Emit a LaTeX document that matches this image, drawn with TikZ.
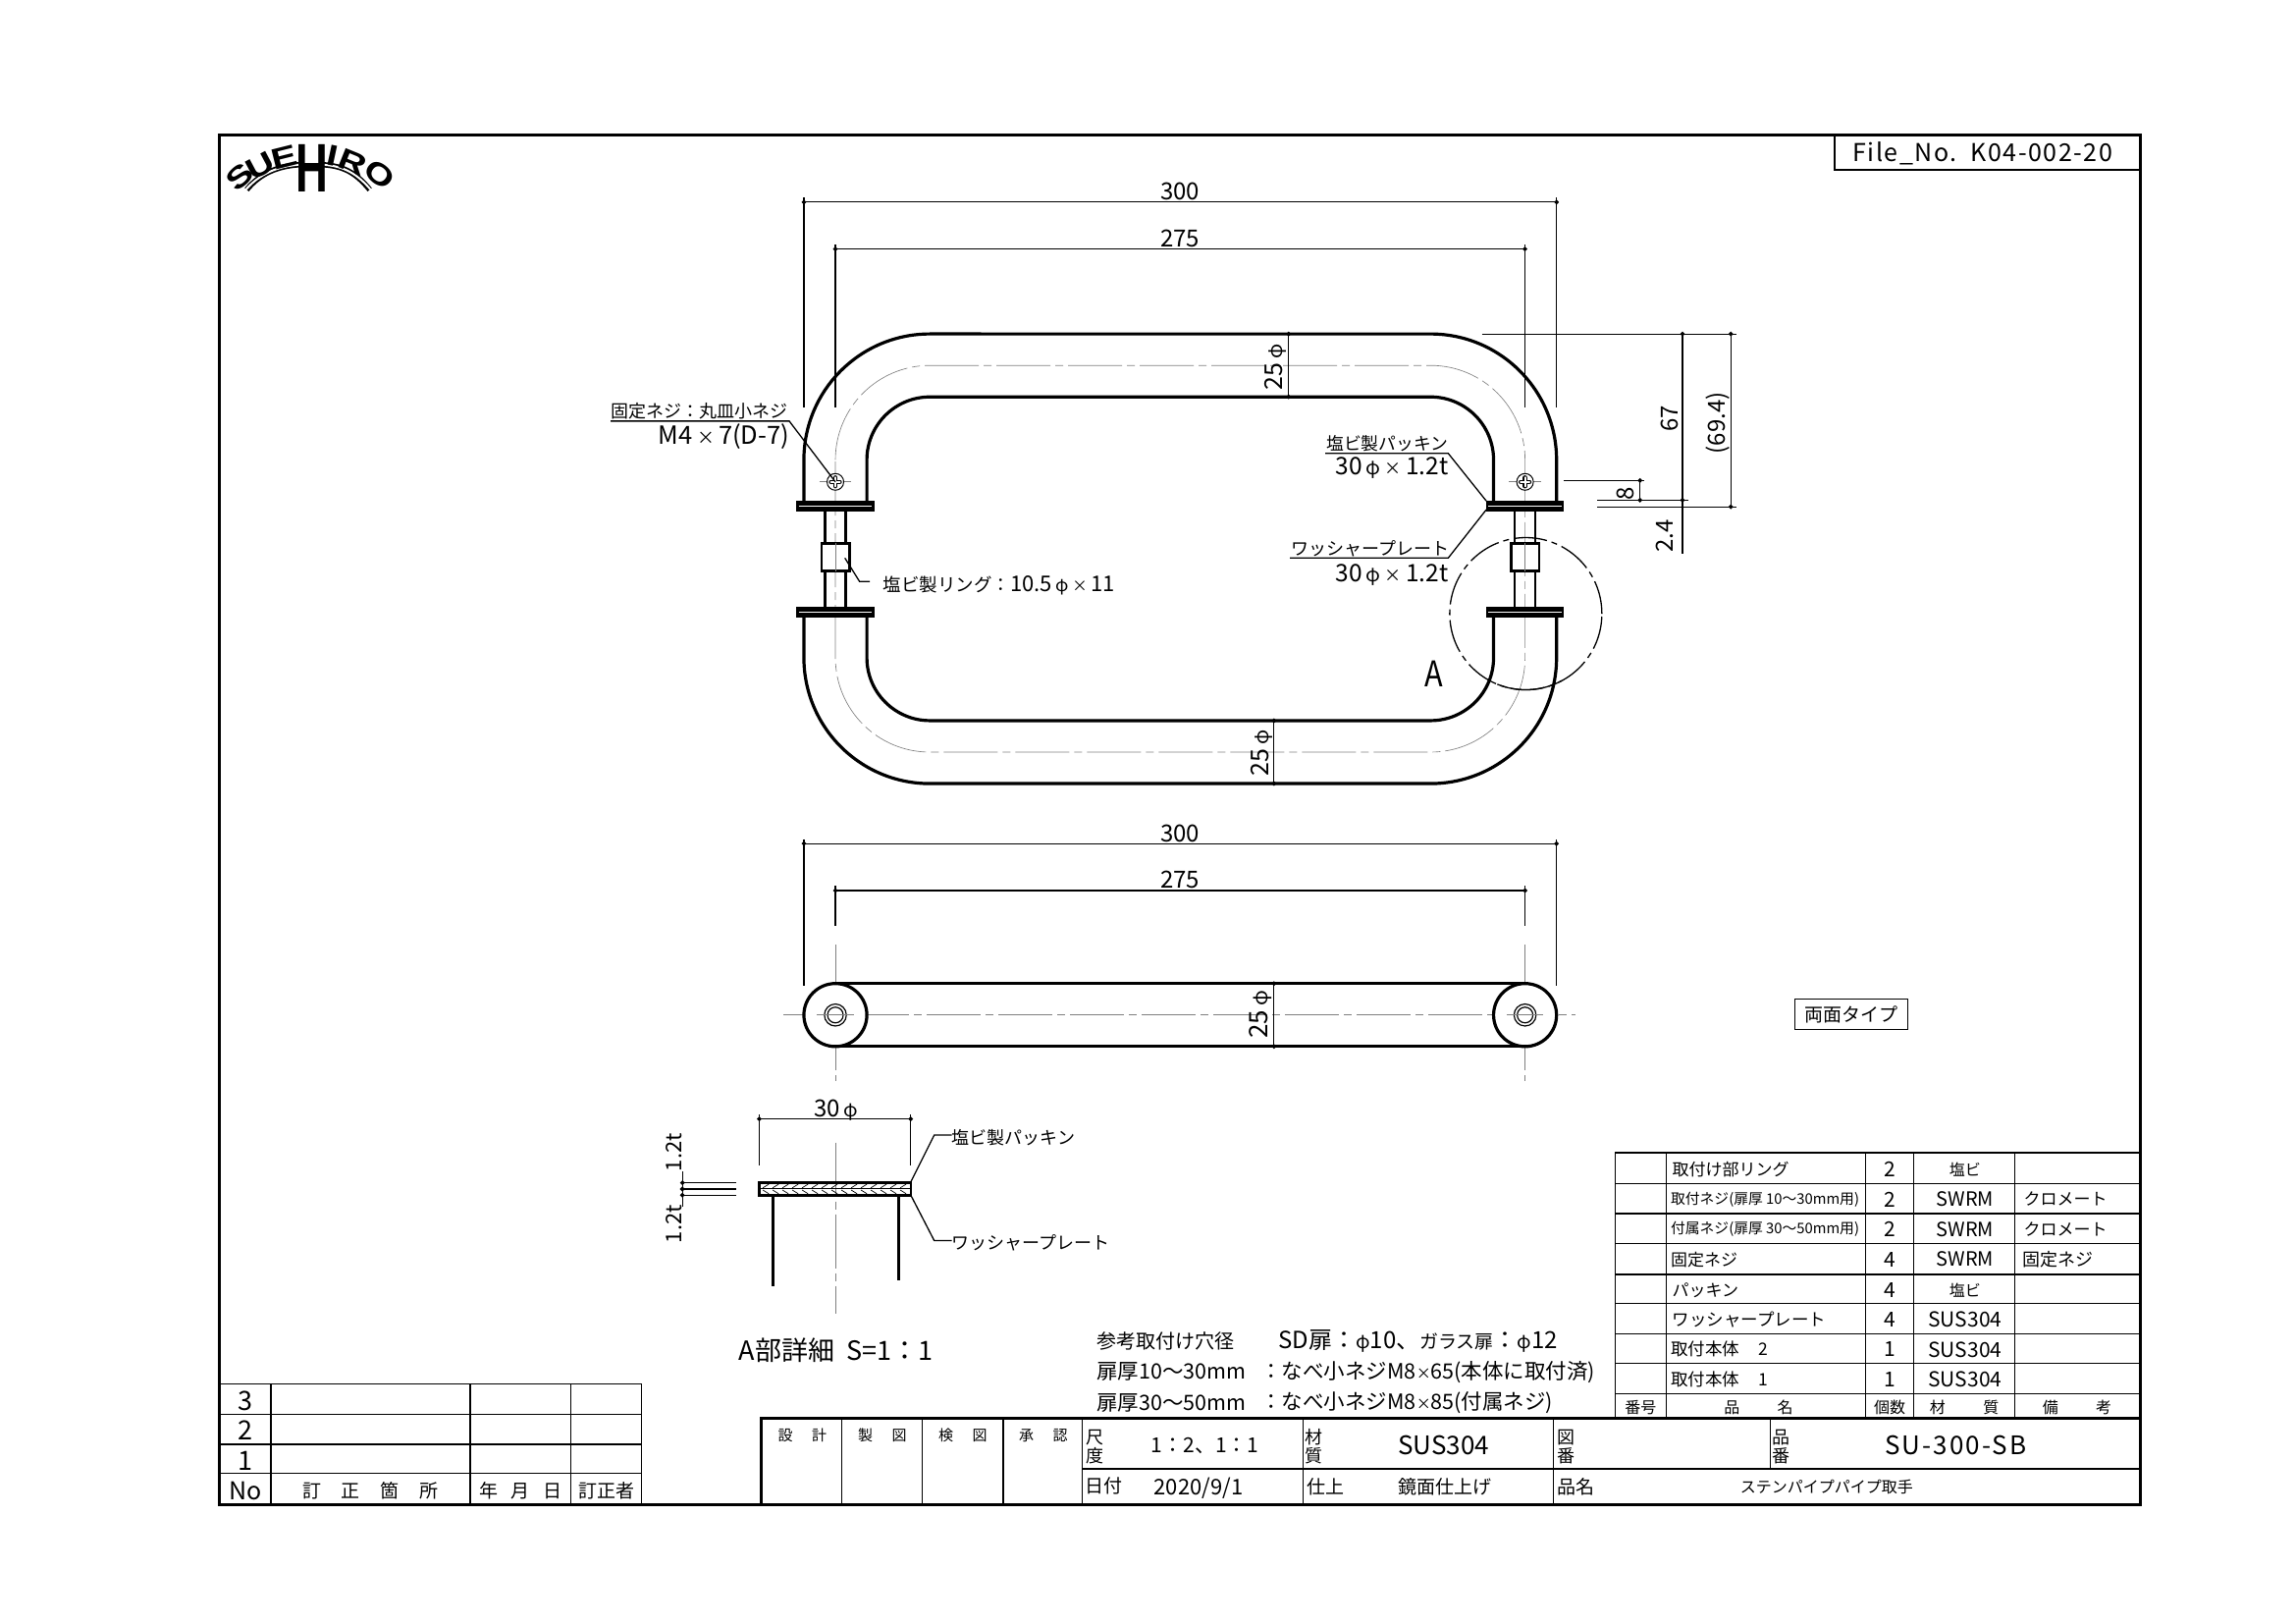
\documentclass[tikz,border=0pt]{standalone}
\usepackage{graphicx}
\usepackage{fontspec}
\setmainfont{Noto Sans CJK JP}
\newfontfamily\logofont[FakeStretch=1.3]{Liberation Sans}
\usetikzlibrary{arrows.meta}
\newcommand\ph{\scalebox{.8}{φ}}
\newcommand\tm{\scalebox{.7}{×}}
\newcommand\ls[2]{{\addfontfeature{LetterSpace=#1}#2}}
\newcommand\tn[4][]{\node[txt,#1] (#2) at (#3) {#4};}
\tikzset{
 txt/.style={inner sep=0pt,outer sep=0pt,anchor=center,yshift=-1.2pt},
 sz/.style={font=\fontsize{#1pt}{#1pt}\selectfont},
 logo/.style={font=\fontsize{#1pt}{#1pt}\selectfont\logofont\bfseries},
 lft/.style={anchor=west},
 rgt/.style={anchor=east},
 vert/.style={rotate=90},
 frameln/.style={line width=3pt,black},
 heavy/.style={line width=3.2pt,black,line cap=round,line join=round},
 thin1/.style={line width=1.3pt,black},
 dimln/.style={line width=1.2pt,black,{Circle[length=4.5pt]}-{Circle[length=4.5pt]},shorten <=-2.2pt,shorten >=-2.2pt},
 extln/.style={line width=1.2pt,black},
 ctr/.style={line width=.65pt,black!50,dash pattern=on 55pt off 5pt on 8pt off 5pt},
 tbl/.style={line width=1.4pt,black},
 leg/.style={line width=3pt,black},
}
\begin{document}
\begin{tikzpicture}[x=1.4917pt,y=-1.4917pt]
\useasboundingbox (0,0) rectangle (1568,1108.15);
\fill[white] (0,0) rectangle (1568,1108.15);
% frame
\draw[frameln] (150,92) rectangle (1461.5,1027);
\draw[tbl] (1253,93) -- (1253,116) -- (1461,116);
\tn[sz=25]{fileno}{1354,104}{\ls{6}{File\_No.\ \ K04-002-20}}
% logo
\draw[line width=5.5pt,black] (168.5,129.5) .. controls (178,118) and (190,113.5) .. (204,112.5);
\draw[line width=2pt,white] (167,130.5) .. controls (177,118.5) and (190,113.5) .. (204,112.5);
\draw[line width=5.5pt,black] (221,112.5) .. controls (235,113.5) and (243,118) .. (252.5,129.5);
\draw[line width=2pt,white] (221,112.5) .. controls (235,113.5) and (244,118.5) .. (254,130.5);
\tn[logo=30,rotate=42]{logoS}{163.5,120}{S}
\tn[logo=30,rotate=28]{logoU}{178,112.5}{U}
\tn[logo=30,rotate=14]{logoE}{194,107}{E}
\tn[logo=70]{logoH}{213,114}{\scalebox{.5}[1]{H}}
\tn[logo=30,rotate=-12]{logoI}{227,105.5}{I}
\tn[logo=30,rotate=-22]{logoR}{241,110}{R}
\tn[logo=30,rotate=-38]{logoO}{259.5,118.5}{O}
% ---------- front view
\draw[ctr] (570.5,314) arc[start angle=180,end angle=90,radius=96.2pt] -- (977,249.5) arc[start angle=90,end angle=0,radius=96.2pt] -- (1041.5,449) arc[start angle=0,end angle=-90,radius=96.2pt] -- (635,513.5) arc[start angle=270,end angle=180,radius=96.2pt] -- cycle;
\draw[heavy] (549,342) -- (549,314) arc[start angle=180,end angle=90,radius=128.3pt] -- (977,228) arc[start angle=90,end angle=0,radius=128.3pt] -- (1063,342);
\draw[heavy] (592,342) -- (592,314) arc[start angle=180,end angle=90,radius=64.14pt] -- (977,271) arc[start angle=90,end angle=0,radius=64.14pt] -- (1020,342);
\draw[heavy] (549,420) -- (549,449) arc[start angle=180,end angle=270,radius=128.3pt] -- (977,535) arc[start angle=270,end angle=360,radius=128.3pt] -- (1063,420);
\draw[heavy] (592,420) -- (592,449) arc[start angle=180,end angle=270,radius=64.14pt] -- (977,492) arc[start angle=270,end angle=360,radius=64.14pt] -- (1020,420);
% posts, plates, rings
\foreach \cx/\nm in {570.5/L,1041.5/R}{
 \draw[line width=2.6pt] (\cx-7,348) -- (\cx-7,414) (\cx+7,348) -- (\cx+7,414);
 \draw[line width=2.6pt,fill=white] (\cx-9.5,371) rectangle (\cx+9.5,390);
 \draw[line width=.7pt,black!50] (\cx,371) -- (\cx,390);
 \fill[black] (\cx-26.5,342) rectangle (\cx+26.5,349);
 \fill[black] (\cx-26.5,414.5) rectangle (\cx+26.5,421.5);
 \draw[white,line width=.4pt] (\cx-25,345.5) -- (\cx+25,345.5) (\cx-25,418) -- (\cx+25,418);
 \coordinate (screw\nm) at (\cx,329);
 \draw[line width=.7pt,black!50] (\cx-11,329) -- (\cx+11,329);
 \draw[line width=1pt,fill=white] (\cx,329) circle[radius=8.5pt];
 \draw[line width=4.4pt,line cap=round] (\cx-3,329) -- (\cx+3,329) (\cx,326) -- (\cx,332);
 \draw[line width=2.2pt,white,line cap=round] (\cx-3,329) -- (\cx+3,329) (\cx,326) -- (\cx,332);
}
% detail circle A
\coordinate (circA) at (1042,419);
\draw[line width=1.3pt,dash pattern=on 34pt off 5pt on 6pt off 5pt] (circA) circle[radius=77.5pt];
\draw[line width=1.3pt] (circA) ++(-112:77.5pt) arc[start angle=-112,end angle=-62,radius=77.5pt];
\tn[sz=36]{letterA}{979,459}{\scalebox{.85}[1]{A}}
% dims front
\draw[extln] (549,135) -- (549,278) (1063,135) -- (1063,278);
\draw[extln] (570.5,167) -- (570.5,278) (1041.5,167) -- (1041.5,278);
\draw[dimln] (549,138) -- (1063,138);
\draw[dimln] (570.5,170) -- (1041.5,170);
\tn[sz=24]{d300a}{806,130}{300}
\tn[sz=24]{d275a}{806,162}{275}
\draw[dimln] (880,228) -- (880,271);
\tn[sz=25,vert]{d25a}{871,250}{25\,\ph}
\draw[dimln] (870,492) -- (870,535);
\tn[sz=25,vert]{d25b}{862,513}{25\,\ph}
% right dims
\draw[extln] (1012,228) -- (1186,228);
\draw[extln] (1068,328) -- (1123,328);
\draw[extln] (1091,341.5) -- (1153,341.5);
\draw[extln] (1091,346) -- (1186,346);
\draw[dimln] (1149,228) -- (1149,341.5);
\draw[extln] (1149,341.5) -- (1149,378);
\draw[dimln] (1182,228) -- (1182,346);
\draw[dimln] (1120,328) -- (1120,341.5);
\tn[sz=24,vert]{d8}{1110,336}{8}
\tn[sz=24,vert]{d67}{1140,285}{67}
\tn[sz=24,vert]{d694}{1173,288}{(69.4)}
\tn[sz=24,vert]{d24}{1137,365}{2.4}
% leaders front
\tn[sz=18]{lblFix}{477.5,280}{固定ネジ：丸皿小ネジ}
\tn[sz=25.5,rgt]{lblM4}{539,297}{M4\,\tm\,7(D-7)}
\draw[thin1] (417,287.5) -- (539,287.5) -- (screwL);
\tn[sz=18.5,lft]{lblRing}{603,399}{塩ビ製リング：\fontsize{22pt}{22pt}\selectfont 10.5\,\ph\,\tm\,11}
\coordinate (ringL) at (577,381);
\draw[thin1] (ringL) -- (587,397) -- (594,397);
\tn[sz=17.8,rgt]{lblPk}{989,302}{塩ビ製パッキン}
\tn[sz=24.5,rgt]{lblPk2}{989,319}{30\,\ph\,\tm\,1.2t}
\coordinate (plateA) at (1015,342);
\coordinate (plateB) at (1015,348);
\draw[thin1] (905,309.5) -- (989,309.5) -- (plateA);
\tn[sz=18,rgt]{lblWs}{990,374}{ワッシャープレート}
\tn[sz=24.5,rgt]{lblWs2}{989,392}{30\,\ph\,\tm\,1.2t}
\draw[thin1] (881,381) -- (989,381) -- (plateB);
% ---------- side view
\draw[ctr] (535,693) -- (1076,693);
\draw[ctr] (570.5,645) -- (570.5,738);
\draw[ctr] (1041.5,645) -- (1041.5,738);
\draw[heavy] (570.5,671.5) -- (1041.5,671.5) (570.5,714.5) -- (1041.5,714.5);
\foreach \cx in {570.5,1041.5}{
 \draw[heavy,fill=white] (\cx,693) circle[radius=32.07pt];
 \draw[line width=1.2pt] (\cx,693) circle[radius=11.2pt];
 \draw[line width=1.2pt] (\cx,693) circle[radius=8pt];
}
\draw[ctr] (558,693) -- (583,693);
\draw[ctr] (1029,693) -- (1054,693);
\draw[extln] (549,573) -- (549,673) (1063,573) -- (1063,673);
\draw[extln] (570.5,605) -- (570.5,632) (1041.5,605) -- (1041.5,632);
\draw[dimln] (549,576) -- (1063,576);
\draw[dimln] (570.5,608) -- (1041.5,608);
\tn[sz=24]{d300b}{806,568}{300}
\tn[sz=24]{d275b}{806,600}{275}
\draw[dimln] (870,671.5) -- (870,714.5);
\tn[sz=26,vert]{d25c}{861,692}{25\,\ph}
\tn[sz=19,draw,line width=1.2pt,minimum width=115pt,minimum height=31.3pt,yshift=1.2pt]{both}{1264.5,692.5}{両面タイプ}
% ---------- detail
\draw[ctr] (570.5,780) -- (570.5,897);
\draw[extln] (518.5,761) -- (518.5,796) (622,761) -- (622,796);
\draw[dimln] (518.5,764) -- (622,764);
\tn[sz=24]{d30}{571,757}{30\,\ph}
\draw[line width=1pt] (518.5,811.8) -- (622,811.8);
\foreach \i in {0,...,14}{
 \draw[line width=.7pt] ({521+\i*6.7},811) -- ({525+\i*6.7},808.5);
 \draw[line width=.7pt] ({521+\i*6.7},812.5) -- ({525+\i*6.7},815);
}
\draw[line width=2.6pt] (518.5,807.5) rectangle (622,816);
\draw[leg] (528,816) -- (528,878) (613.5,816) -- (613.5,874);
\draw[extln] (466,807.5) -- (503,807.5) (466,811.8) -- (503,811.8) (466,816) -- (503,816);
\draw[dimln] (466,807.5) -- (466,811.8);
\draw[dimln] (466,811.8) -- (466,816);
\draw[extln] (466,800) -- (466,824);
\tn[sz=22,vert]{d12a}{460,786}{1.2t}
\tn[sz=22,vert]{d12b}{460,835}{1.2t}
\tn[sz=18,lft]{lblPk3}{650,776}{塩ビ製パッキン}
\tn[sz=18,lft]{lblWs3}{650,848}{ワッシャープレート}
\coordinate (dtlA) at (622,807);
\coordinate (dtlB) at (622,816);
\draw[thin1] (dtlA) -- (638,775) -- (650,775);
\draw[thin1] (dtlB) -- (638,847) -- (650,847);
\tn[sz=27]{ttlA}{571,921}{A部詳細\ \ S=1：1}
% notes
\tn[sz=20,lft]{n1a}{749,915}{参考取付け穴径}
\tn[sz=24,lft]{n1b}{873,915}{SD扉：\ph 10、\fontsize{19pt}{19pt}\selectfont ガラス扉\fontsize{24pt}{24pt}\selectfont：\ph 12}
\tn[sz=21.5,lft]{n2a}{749,936}{扉厚10～30mm}
\tn[sz=21.5,lft]{n2b}{861,936}{：なべ小ネジM8\tm 65(本体に取付済)}
\tn[sz=21.5,lft]{n3a}{749,957}{扉厚30～50mm}
\tn[sz=21.5,lft]{n3b}{861,957}{：なべ小ネジM8\tm 85(付属ネジ)}
% ---------- parts table
\foreach \y in {787,808,828.5,849,870,890,910.5,931,951.5}{
 \draw[tbl] (1103,\y) -- (1461,\y);
}
\foreach \x in {1103,1138,1274,1307,1376}{
 \draw[tbl] (\x,787) -- (\x,968.5);
}
\tn[sz=17,lft]{p1}{1142,797.5}{取付け部リング}
\tn[sz=14.8,lft]{p2}{1141,818}{取付ネジ(扉厚 10～30mm用)}
\tn[sz=14.8,lft]{p3}{1141,838.5}{付属ネジ(扉厚 30～50mm用)}
\tn[sz=17,lft]{p4}{1141,859}{固定ネジ}
\tn[sz=17,lft]{p5}{1142,880}{パッキン}
\tn[sz=17.5,lft]{p6}{1142,900}{ワッシャープレート}
\tn[sz=17.5,lft]{p7}{1141,920.5}{取付本体\hspace{1.1em}2}
\tn[sz=17.5,lft]{p8}{1141,941}{取付本体\hspace{1.1em}1}
\tn[sz=21]{q1}{1290.5,797.5}{2}
\tn[sz=21]{q2}{1290.5,818}{2}
\tn[sz=21]{q3}{1290.5,838.5}{2}
\tn[sz=21]{q4}{1290.5,859}{4}
\tn[sz=21]{q5}{1290.5,880}{4}
\tn[sz=21]{q6}{1290.5,900}{4}
\tn[sz=21]{q7}{1290.5,920.5}{1}
\tn[sz=21]{q8}{1290.5,941}{1}
\tn[sz=16]{m1}{1342,797.5}{塩ビ}
\tn[sz=20]{m2}{1342,818}{SWRM}
\tn[sz=20]{m3}{1342,838.5}{SWRM}
\tn[sz=20]{m4}{1342,859}{SWRM}
\tn[sz=16]{m5}{1342,880}{塩ビ}
\tn[sz=21]{m6}{1342,900}{SUS304}
\tn[sz=21]{m7}{1342,920.5}{SUS304}
\tn[sz=21]{m8}{1342,941}{SUS304}
\tn[sz=17,lft]{r2}{1382,818}{クロメート}
\tn[sz=17,lft]{r3}{1382,838.5}{クロメート}
\tn[sz=18,lft]{r4}{1381,859}{固定ネジ}
\tn[sz=16]{h1}{1120.5,960}{番号}
\tn[sz=16]{h2}{1201,960}{品\hspace{2.4em}名}
\tn[sz=16]{h3}{1290.5,960}{個数}
\tn[sz=16]{h4}{1341.5,960}{材\hspace{2.4em}質}
\tn[sz=16]{h5}{1418.5,960}{備\hspace{2.4em}考}
% ---------- title block
\draw[line width=2.8pt] (520,1027) -- (520,968.5) -- (1461,968.5);
\draw[tbl] (739,1003) -- (1461,1003);
\foreach \x in {575,630,685,739,890,1061}{
 \draw[tbl] (\x,968.5) -- (\x,1027);
}
\draw[tbl] (1209,968.5) -- (1209,1003);
\tn[sz=15]{t1}{548,979}{設\hspace{1.3em}計}
\tn[sz=15]{t2}{602.5,979}{製\hspace{1.3em}図}
\tn[sz=15]{t3}{657.5,979}{検\hspace{1.3em}図}
\tn[sz=15]{t4}{712.5,979}{承\hspace{1.3em}認}
\tn[sz=18]{t5a}{747.5,980.5}{尺}
\tn[sz=18]{t5b}{747.5,993}{度}
\tn[sz=21]{t6}{823,986}{1：2、1：1}
\tn[sz=18]{t7a}{897.5,980.5}{材}
\tn[sz=18]{t7b}{897.5,993}{質}
\tn[sz=26]{t8}{986,986}{SUS304}
\tn[sz=18]{t9a}{1069.5,980.5}{図}
\tn[sz=18]{t9b}{1069.5,993}{番}
\tn[sz=18]{t10a}{1216.5,980.5}{品}
\tn[sz=18]{t10b}{1216.5,993}{番}
\tn[sz=26]{t11}{1335.5,986}{\ls{8}{SU-300-SB}}
\tn[sz=19]{t12}{754,1014}{日付}
\tn[sz=22]{t13}{818.5,1015.5}{2020/9/1}
\tn[sz=19]{t14}{905,1014}{仕上}
\tn[sz=19]{t15}{986.5,1014.5}{鏡面仕上げ}
\tn[sz=19]{t16}{1076.5,1014}{品名}
\tn[sz=16]{t17}{1247.5,1014.5}{ステンパイプパイプ取手}
% ---------- revision table
\draw[tbl] (150,945) -- (438,945) -- (438,1027);
\foreach \y in {965.5,986,1006}{
 \draw[tbl] (150,\y) -- (438,\y);
}
\foreach \x in {185,321,390}{
 \draw[tbl] (\x,945) -- (\x,1027);
}
\tn[sz=27]{v3}{167.5,955.5}{3}
\tn[sz=27]{v2}{167.5,976}{2}
\tn[sz=27]{v1}{167.5,996.5}{1}
\tn[sz=25]{v0}{167.5,1017}{No}
\tn[sz=19]{w1}{253,1017}{訂\hspace{1.1em}正\hspace{1.1em}箇\hspace{1.1em}所}
\tn[sz=19]{w2}{355.5,1017}{年\hspace{.7em}月\hspace{.7em}日}
\tn[sz=19]{w3}{414,1017}{訂正者}
\end{tikzpicture}
\end{document}
